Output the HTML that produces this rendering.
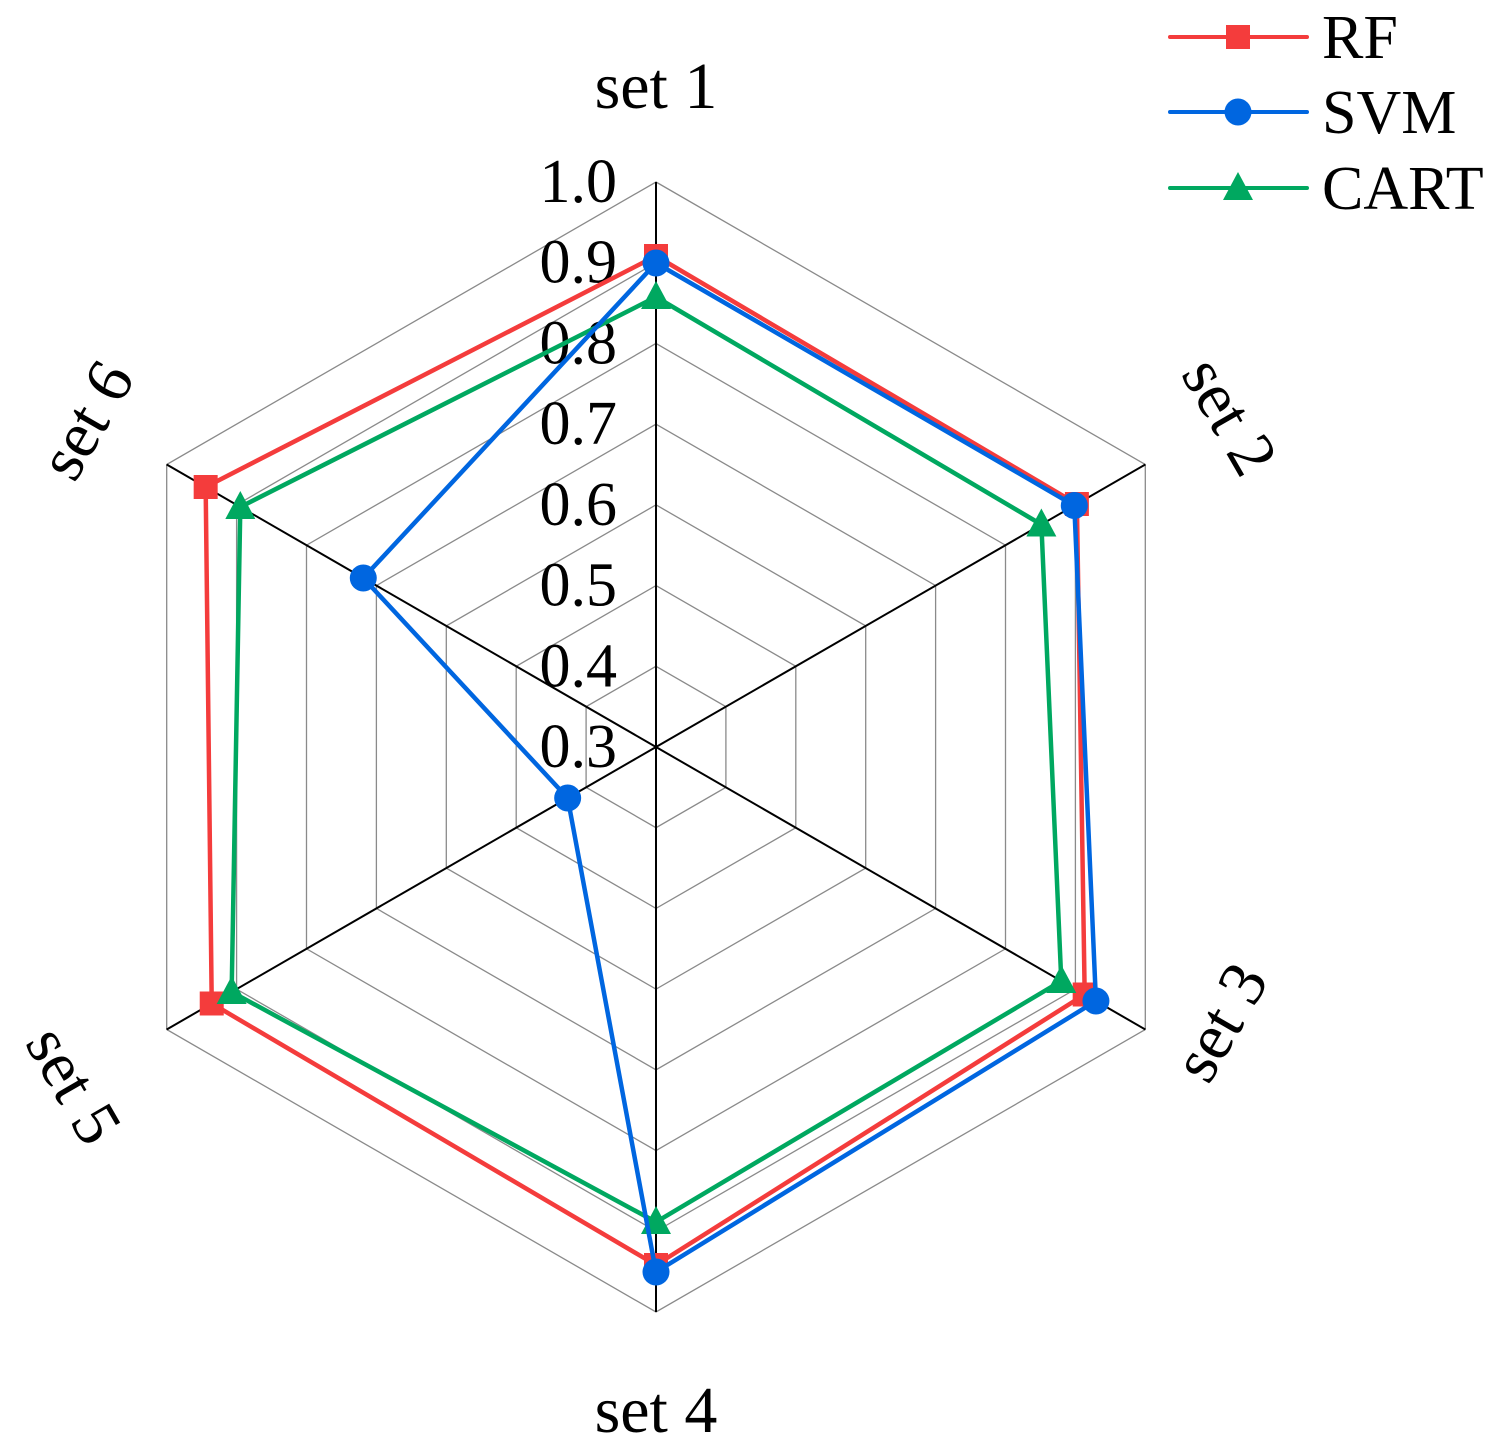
<!DOCTYPE html>
<html><head><meta charset="utf-8"><style>
html,body{margin:0;padding:0;background:#fff;}
svg text{font-family:"Liberation Serif",serif;font-size:62px;fill:#000;}
svg text.ax{font-size:66px;}
</style></head><body>
<svg id="s" width="1503" height="1451" xmlns="http://www.w3.org/2000/svg"></svg>
<script>
const s=document.getElementById('s');
const cx=656,cy=747,R=565,ns='http://www.w3.org/2000/svg';
function el(t,a,txt){const e=document.createElementNS(ns,t);for(const k in a)e.setAttribute(k,a[k]);if(txt)e.textContent=txt;s.appendChild(e);return e;}
function pt(i,r){const a=(90-60*i)*Math.PI/180;return [cx+r*Math.cos(a),cy-r*Math.sin(a)];}
for(let k=1;k<=7;k++){const r=R*k/7;let p=[];for(let i=0;i<6;i++)p.push(pt(i,r).join(','));el('polygon',{points:p.join(' '),fill:'none',stroke:'#8a8a8a','stroke-width':1.3});}
for(let i=0;i<6;i++){const p=pt(i,R);el('line',{x1:cx,y1:cy,x2:p[0],y2:p[1],stroke:'#000','stroke-width':2});}
for(let k=0;k<=7;k++){const y=cy-R*k/7+20;el('text',{x:617,y:y,'text-anchor':'end'},(0.3+k/10).toFixed(1));}
const data={
 RF:{c:'#f43c3c',r:[491,486,495,518,513,520],m:'sq'},
 CART:{c:'#00a860',r:[450,445,468,475,490,480],m:'tri'},
 SVM:{c:'#0066e0',r:[484,483,508,525,102,338],m:'ci'}
};
function marker(m,x,y,c){
 if(m==='sq')el('rect',{x:x-12,y:y-12,width:24,height:24,fill:c});
 else if(m==='ci')el('circle',{cx:x,cy:y,r:13.5,fill:c});
 else el('polygon',{points:`${x},${y-16} ${x-15},${y+12} ${x+15},${y+12}`,fill:c});
}
for(const n of ['RF','CART','SVM']){const d=data[n];const p=d.r.map((r,i)=>pt(i,r));
 el('polygon',{points:p.map(q=>q.join(',')).join(' '),fill:'none',stroke:d.c,'stroke-width':4.5,'stroke-linejoin':'miter'});
 p.forEach(q=>marker(d.m,q[0],q[1],d.c));}
function tx(x,y,t){el('text',{x:x,y:y,'text-anchor':'middle','class':'ax'},t);}
tx(656,108,'set 1');
tx(656,1432,'set 4');
function rt(x,y,a,t){el('text',{x:0,y:22,'text-anchor':'middle','class':'ax',transform:`translate(${x},${y}) rotate(${a})`},t);}
rt(1230,416,60,'set 2');
rt(1220,1022,-60,'set 3');
rt(74,1085,60,'set 5');
rt(86,420,-60,'set 6');
const L=[['RF','#f43c3c','sq',37],['SVM','#0066e0','ci',112],['CART','#00a860','tri',188]];
L.forEach(l=>{el('line',{x1:1170,y1:l[3],x2:1307,y2:l[3],stroke:l[1],'stroke-width':4,'stroke-linecap':'round'});
 marker(l[2],1238,l[3],l[1]);el('text',{x:1322,y:l[3]+21},l[0]);});
</script>
</body></html>
